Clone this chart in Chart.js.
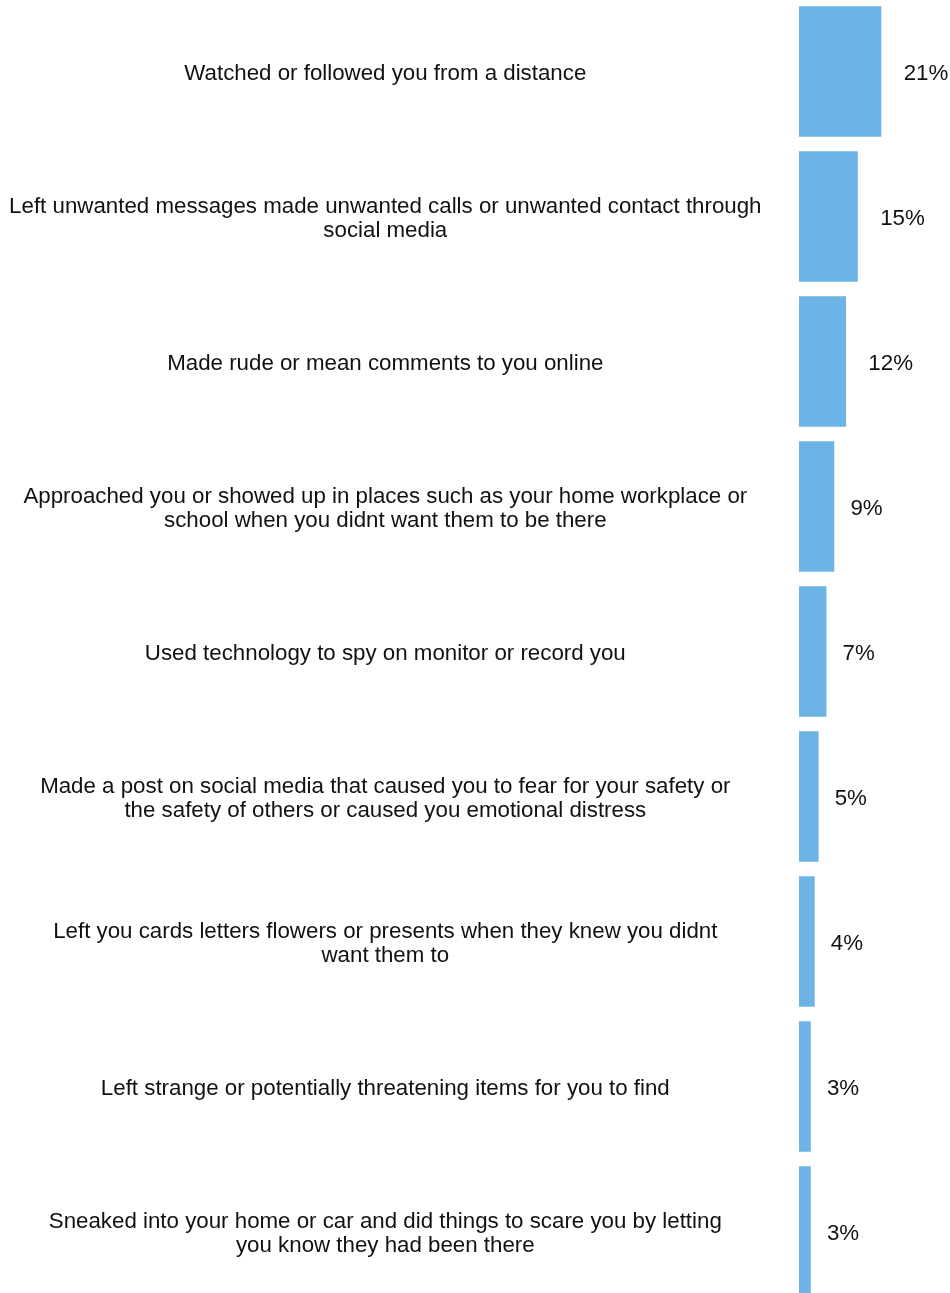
<!DOCTYPE html>
<html>
<head>
<meta charset="utf-8">
<script src="https://cdn.jsdelivr.net/npm/chart.js@4/dist/chart.umd.min.js"></script>
<style>
  html, body { margin: 0; padding: 0; background: #ffffff; overflow: hidden; }
  #wrap { position: absolute; left: 0; top: -1px; width: 950px; height: 1305px; }
</style>
</head>
<body>
<div id="wrap"><canvas id="chart" width="950" height="1305"></canvas></div>
<script>
// Stalking behaviours experienced, share of respondents (%)
const categories = [
  "Watched or followed you from a distance",
  ["Left unwanted messages made unwanted calls or unwanted contact through", "social media"],
  "Made rude or mean comments to you online",
  ["Approached you or showed up in places such as your home workplace or", "school when you didnt want them to be there"],
  "Used technology to spy on monitor or record you",
  ["Made a post on social media that caused you to fear for your safety or", "the safety of others or caused you emotional distress"],
  ["Left you cards letters flowers or presents when they knew you didnt", "want them to"],
  "Left strange or potentially threatening items for you to find",
  ["Sneaked into your home or car and did things to scare you by letting", "you know they had been there"]
];
const shares = [21, 15, 12, 9, 7, 5, 4, 3, 3];
const valueLabels = ["21%", "15%", "12%", "9%", "7%", "5%", "4%", "3%", "3%"];

const FONT = "'Liberation Sans', Arial, Helvetica, sans-serif";
const FONT_SIZE = 22.3;
const TEXT_SHIFT = 2; // nudges text down so it sits optically centred on the bars

// Writes the percentage to the right of each bar
const barValueLabels = {
  id: 'barValueLabels',
  afterDatasetsDraw(chart) {
    const ctx = chart.ctx;
    const meta = chart.getDatasetMeta(0);
    ctx.save();
    ctx.font = FONT_SIZE + "px " + FONT;
    ctx.fillStyle = "#111111";
    ctx.textAlign = "left";
    ctx.textBaseline = "middle";
    meta.data.forEach((bar, i) => {
      const text = valueLabels[i];
      const w = ctx.measureText(text).width;
      ctx.fillText(text, bar.x + w / 2, bar.y + TEXT_SHIFT);
    });
    ctx.restore();
  }
};

new Chart(document.getElementById('chart'), {
  type: 'bar',
  data: {
    labels: categories,
    datasets: [{
      data: shares,
      backgroundColor: '#6cb3e6',
      borderWidth: 0,
      barPercentage: 0.9,
      categoryPercentage: 1.0
    }]
  },
  options: {
    indexAxis: 'y',
    responsive: false,
    animation: false,
    layout: { padding: { left: 0, right: 2, top: 0, bottom: 0 } },
    plugins: {
      legend: { display: false },
      tooltip: { enabled: false }
    },
    scales: {
      x: {
        display: false,
        min: 0,
        max: 38
      },
      y: {
        grid: { display: false, drawTicks: false },
        border: { display: false },
        ticks: {
          crossAlign: 'center',
          padding: 37.5,
          labelOffset: TEXT_SHIFT,
          color: '#111111',
          font: { family: FONT, size: FONT_SIZE, lineHeight: 1.08 }
        },
        afterFit(scale) {
          // label column fills everything left of the bars; rows use the full height
          scale.width = 799;
          scale.paddingTop = 0;
          scale.paddingBottom = 0;
        }
      }
    }
  },
  plugins: [barValueLabels]
});
</script>
</body>
</html>
